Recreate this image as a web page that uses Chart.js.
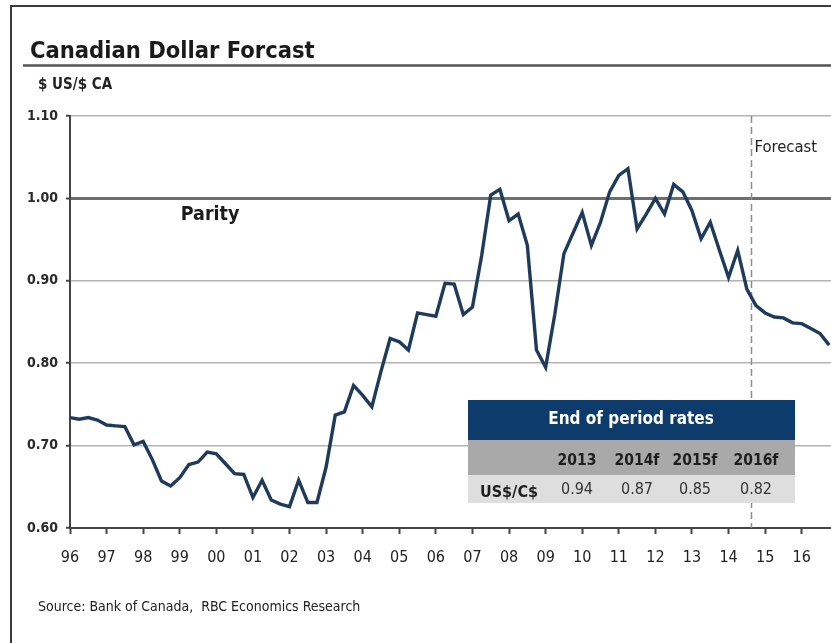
<!DOCTYPE html>
<html>
<head>
<meta charset="utf-8">
<title>Canadian Dollar Forcast</title>
<script src="https://cdn.jsdelivr.net/npm/chart.js@4.4.1/dist/chart.umd.min.js"></script>
<style>
  html, body { margin: 0; padding: 0; background: #fff; }
  #wrap { width: 831px; height: 643px; position: relative; }
</style>
</head>
<body>
<div id="wrap"><canvas id="cadChart" width="831" height="643"></canvas></div>
<script>
// quarterly US$ per C$, 1996 Q1 .. 2016 Q4 (forecast from late 2014)
const startYear = 1996;
const usdPerCad = [
  0.734, 0.732, 0.734, 0.731,   // 96
  0.725, 0.724, 0.723, 0.701,   // 97
  0.705, 0.683, 0.657, 0.651,   // 98
  0.661, 0.677, 0.680, 0.692,   // 99
  0.690, 0.678, 0.666, 0.665,   // 00
  0.637, 0.658, 0.634, 0.629,   // 01
  0.626, 0.658, 0.631, 0.631,   // 02
  0.674, 0.737, 0.741, 0.773,   // 03
  0.761, 0.747, 0.790, 0.830,   // 04
  0.826, 0.816, 0.861, 0.859,   // 05
  0.857, 0.897, 0.896, 0.859,   // 06
  0.868, 0.930, 1.004, 1.011,   // 07
  0.973, 0.981, 0.943, 0.816,   // 08
  0.795, 0.859, 0.933, 0.958,   // 09
  0.983, 0.943, 0.971, 1.008,   // 10
  1.028, 1.036, 0.963, 0.981,   // 11
  1.000, 0.981, 1.017, 1.008,   // 12
  0.985, 0.951, 0.971, 0.937,   // 13
  0.904, 0.937, 0.890, 0.870,   // 14
  0.861, 0.856, 0.855, 0.849,   // 15
  0.848, 0.842, 0.836, 0.822    // 16
];
const yearLabels = ['96', '97', '98', '99', '00', '01', '02', '03', '04', '05', '06',
                    '07', '08', '09', '10', '11', '12', '13', '14', '15', '16'];
const forecastStart = 2014.625;
const parity = 1.0;

// end-of-period table: Q4 value of each year
const tableYears = ['2013', '2014f', '2015f', '2016f'];
const tableRates = tableYears.map(y => usdPerCad[(parseInt(y, 10) - startYear) * 4 + 3]);

const points = usdPerCad.map((v, i) => ({ x: startYear + i / 4, y: v }));

const FONT = '"DejaVu Sans Condensed", "DejaVu Sans", sans-serif';
Chart.defaults.font.family = FONT;

const decorations = {
  id: 'decorations',
  beforeDatasetsDraw(chart) {
    const { ctx, chartArea: a, scales: { x } } = chart;
    const fx = Math.round(x.getPixelForValue(forecastStart)) + 0.5;
    ctx.save();
    ctx.strokeStyle = '#8c8c8c';
    ctx.lineWidth = 1.5;
    ctx.setLineDash([7, 4]);
    ctx.beginPath();
    ctx.moveTo(fx, a.top);
    ctx.lineTo(fx, a.bottom);
    ctx.stroke();
    ctx.restore();
  },
  afterDraw(chart) {
    const { ctx, scales: { x, y } } = chart;
    ctx.save();

    // outer frame
    ctx.strokeStyle = '#3a3a3a';
    ctx.lineWidth = 2;
    ctx.beginPath();
    ctx.moveTo(11, 643);
    ctx.lineTo(11, 6);
    ctx.lineTo(831, 6);
    ctx.stroke();

    // title + rule
    ctx.fillStyle = '#1a1a1a';
    ctx.textBaseline = 'alphabetic';
    ctx.textAlign = 'left';
    ctx.font = 'bold 23.5px ' + FONT;
    ctx.fillText('Canadian Dollar Forcast', 30, 58);
    ctx.strokeStyle = '#555';
    ctx.lineWidth = 2.5;
    ctx.beginPath();
    ctx.moveTo(23, 65.5);
    ctx.lineTo(831, 65.5);
    ctx.stroke();

    ctx.font = 'bold 15px ' + FONT;
    ctx.fillStyle = '#222';
    ctx.fillText('$ US/$ CA', 38, 89);

    // in-plot labels
    ctx.textBaseline = 'middle';
    ctx.font = 'bold 19.5px ' + FONT;
    ctx.fillStyle = '#1a1a1a';
    ctx.fillText('Parity', x.getPixelForValue(1999) + 1, y.getPixelForValue(0.98));
    ctx.font = '16.5px ' + FONT;
    ctx.fillStyle = '#222';
    ctx.fillText('Forecast', x.getPixelForValue(forecastStart) + 3, y.getPixelForValue(1.061));

    // end of period table
    const tx = 468, tw = 327;
    ctx.fillStyle = '#0c3b6c';
    ctx.fillRect(tx, 400, tw, 40);
    ctx.fillStyle = '#a9a9a9';
    ctx.fillRect(tx, 440, tw, 35);
    ctx.fillStyle = '#dedede';
    ctx.fillRect(tx, 475, tw, 28);

    ctx.textAlign = 'center';
    ctx.fillStyle = '#fff';
    ctx.font = 'bold 17px ' + FONT;
    ctx.fillText('End of period rates', 631, 420);

    const cols = [577, 637, 695, 756];
    ctx.fillStyle = '#1e1e1e';
    ctx.font = 'bold 15.5px ' + FONT;
    tableYears.forEach((t, i) => ctx.fillText(t, cols[i], 461));
    ctx.font = 'bold 16px ' + FONT;
    ctx.fillText('US$/C$', 509, 493);
    ctx.font = '16px ' + FONT;
    ctx.fillStyle = '#333';
    tableRates.forEach((r, i) => ctx.fillText(r.toFixed(2), cols[i], 490));

    // source line
    ctx.textAlign = 'left';
    ctx.font = '14px ' + FONT;
    ctx.fillStyle = '#222';
    ctx.fillText('Source: Bank of Canada,  RBC Economics Research', 38, 607);

    ctx.restore();
  }
};

new Chart(document.getElementById('cadChart'), {
  type: 'line',
  data: {
    datasets: [{
      data: points,
      borderColor: '#1f3b5c',
      borderWidth: 3.4,
      pointRadius: 0,
      tension: 0,
      fill: false
    }]
  },
  options: {
    responsive: false,
    animation: false,
    layout: { padding: { top: 116, left: 0, right: 0, bottom: 75 } },
    plugins: { legend: { display: false }, tooltip: { enabled: false } },
    scales: {
      x: {
        type: 'linear',
        min: startYear,
        max: 2016.8,
        afterFit(scale) { scale.height = 40; },
        border: { color: '#444', width: 2 },
        grid: {
          drawOnChartArea: false,
          tickLength: 6,
          tickColor: '#444',
          tickWidth: 2
        },
        ticks: {
          stepSize: 1,
          includeBounds: false,
          autoSkip: false,
          maxRotation: 0,
          padding: 14,
          color: '#222',
          font: { size: 16 },
          callback: v => yearLabels[v - startYear]
        }
      },
      y: {
        min: 0.6,
        max: 1.1,
        afterFit(scale) { scale.width = 70; },
        border: { color: '#444', width: 2 },
        grid: {
          color: c => Math.abs(c.tick.value - parity) < 1e-6 ? '#6e6e6e' : '#b4b4b4',
          lineWidth: c => Math.abs(c.tick.value - parity) < 1e-6 ? 3 : 1.5,
          tickLength: 4,
          tickColor: '#444',
          tickWidth: 2
        },
        ticks: {
          stepSize: 0.1,
          padding: 8,
          color: '#2a2a2a',
          font: { size: 14, weight: 'bold' },
          callback: v => v.toFixed(2)
        }
      }
    }
  },
  plugins: [decorations]
});
</script>
</body>
</html>
